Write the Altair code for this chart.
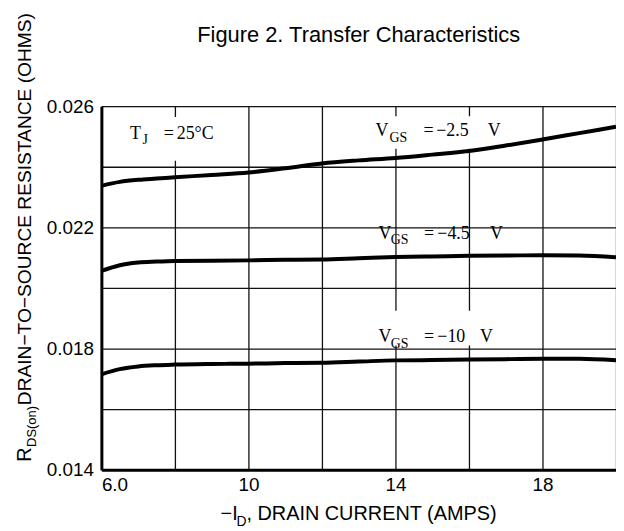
import altair as alt
import pandas as pd

# ---- data ----
current = [6, 6.5, 7, 7.5, 8, 9, 10, 11, 12, 13, 14, 15, 16, 17, 18, 19, 20]
r_vgs_2_5 = [0.02337, 0.02350, 0.02357, 0.02361, 0.02365, 0.02373, 0.02381, 0.02395,
             0.02411, 0.02421, 0.02429, 0.02440, 0.02452, 0.02470, 0.02490, 0.02511, 0.02532]
r_vgs_4_5 = [0.02056, 0.02075, 0.02084, 0.02087, 0.02089, 0.02090, 0.02091, 0.02093,
             0.02094, 0.02098, 0.02102, 0.02104, 0.02106, 0.02107, 0.02108, 0.02107, 0.02101]
r_vgs_10 = [0.01715, 0.01732, 0.01741, 0.01745, 0.01747, 0.01749, 0.01750, 0.01752,
            0.01753, 0.01757, 0.01761, 0.01762, 0.01764, 0.01765, 0.01766, 0.01766, 0.01761]
series_names = ["VGS = -2.5 V", "VGS = -4.5 V", "VGS = -10 V"]

x_ticks = [6, 8, 10, 12, 14, 16, 18, 20]
y_ticks = [0.014, 0.016, 0.018, 0.020, 0.022, 0.024, 0.026]

# annotation text pieces (data coordinates)
ann_text = ["T", "J", "=", "25°C",
            "V", "GS", "=", "−2.5", "V",
            "V", "GS", "=", "−4.5", "V",
            "V", "GS", "=", "−10", "V"]
ann_x = [6.78, 7.12, 7.70, 8.05,
         13.46, 13.84, 14.76, 15.11, 16.51,
         13.54, 13.87, 14.78, 15.14, 16.57,
         13.54, 13.87, 14.78, 15.14, 16.30]
ann_y = [0.02492, 0.02475, 0.02492, 0.02492,
         0.02502, 0.02482, 0.02502, 0.02502, 0.02502,
         0.02161, 0.02144, 0.02161, 0.02161, 0.02161,
         0.01820, 0.01803, 0.01820, 0.01820, 0.01820]
ann_size = [18, 14, 18, 18,
            18, 14, 18, 18, 18,
            18, 14, 18, 18, 18,
            18, 14, 18, 18, 18]

# white label backgrounds (data coordinates)
box_x1 = [6.62, 13.30, 13.30]
box_x2 = [9.70, 16.89, 16.89]
box_y1 = [0.02420, 0.02459, 0.01810]
box_y2 = [0.02564, 0.02567, 0.01925]

rows = []
for name, vals in zip(series_names, [r_vgs_2_5, r_vgs_4_5, r_vgs_10]):
    for c, r in zip(current, vals):
        rows.append({"series": name, "current": c, "r": r})
df = pd.DataFrame(rows)
ann = pd.DataFrame({"text": ann_text, "x": ann_x, "y": ann_y, "fs": ann_size})
boxes = pd.DataFrame({"x1": box_x1, "x2": box_x2, "y1": box_y1, "y2": box_y2})

FONT = "Liberation Sans"
xs = alt.Scale(domain=[6, 20], nice=False, zero=False)
ys = alt.Scale(domain=[0.014, 0.026], nice=False, zero=False)

x_axis = alt.Axis(values=x_ticks, grid=True, gridColor="#111111", gridWidth=1.3, gridOpacity=1,
                  ticks=False, domain=True, domainColor="black", domainWidth=3,
                  labelExpr="datum.value == 6 ? '6.0' : (datum.value % 4 == 2 ? datum.label : '')",
                  labelFont=FONT, labelFontSize=19, labelColor="black", labelPadding=6,
                  labelFlush=True, title=None)
y_axis = alt.Axis(values=y_ticks, grid=True, gridColor="#111111", gridWidth=1.3, gridOpacity=1,
                  ticks=False, domain=True, domainColor="black", domainWidth=3,
                  labelExpr="abs(round(datum.value * 1000) % 4) == 2 ? format(datum.value, '.3f') : ''",
                  labelFont=FONT, labelFontSize=19, labelColor="black", labelPadding=8,
                  labelFlush=False, title=None)

lines = alt.Chart(df).mark_line(color="black", strokeWidth=4, interpolate="monotone").encode(
    x=alt.X("current:Q", scale=xs, axis=x_axis),
    y=alt.Y("r:Q", scale=ys, axis=y_axis),
    detail="series:N",
)

bg = alt.Chart(boxes).mark_rect(color="white").encode(
    x=alt.X("x1:Q", scale=xs), x2="x2:Q",
    y=alt.Y("y1:Q", scale=ys), y2="y2:Q",
)

labels = alt.Chart(ann).mark_text(font="Liberation Serif", align="left", baseline="alphabetic",
                                  color="black").encode(
    x=alt.X("x:Q", scale=xs), y=alt.Y("y:Q", scale=ys), text="text:N",
    size=alt.Size("fs:Q", scale=None),
)

# axis titles with subscripts
def txt(s, x, y, size, angle=0):
    return alt.Chart(pd.DataFrame({"t": [s]})).mark_text(
        font=FONT, fontSize=size, align="left", baseline="alphabetic", color="black", angle=angle
    ).encode(x=alt.value(x), y=alt.value(y), text="t:N")

xt1 = txt("−I", 120, 417, 20)
xt2 = txt("D", 136, 423, 14)
xt3 = txt(", DRAIN CURRENT (AMPS)", 146, 417, 20)

yt1 = txt("R", -71, 358, 20, 270)
yt2 = txt("DS(on)", -66, 343, 13, 270)
yt3 = txt("DRAIN−TO−SOURCE RESISTANCE (OHMS)", -71, 301, 19.3, 270)

chart = alt.layer(bg, lines, labels, xt1, xt2, xt3, yt1, yt2, yt3).properties(
    width=518, height=366,
    title=alt.TitleParams("Figure 2. Transfer Characteristics", font=FONT, fontSize=22,
                          fontWeight="normal", color="black", anchor="middle",
                          baseline="alphabetic", offset=-51),
    autosize=alt.AutoSizeParams(type="none"),
    padding={"left": 94, "top": 97, "right": 0, "bottom": 80},
).configure_view(stroke="#111111", strokeWidth=1.3).configure(background="white")

chart.save("out.html", embed_options={"renderer": "svg", "actions": False})
